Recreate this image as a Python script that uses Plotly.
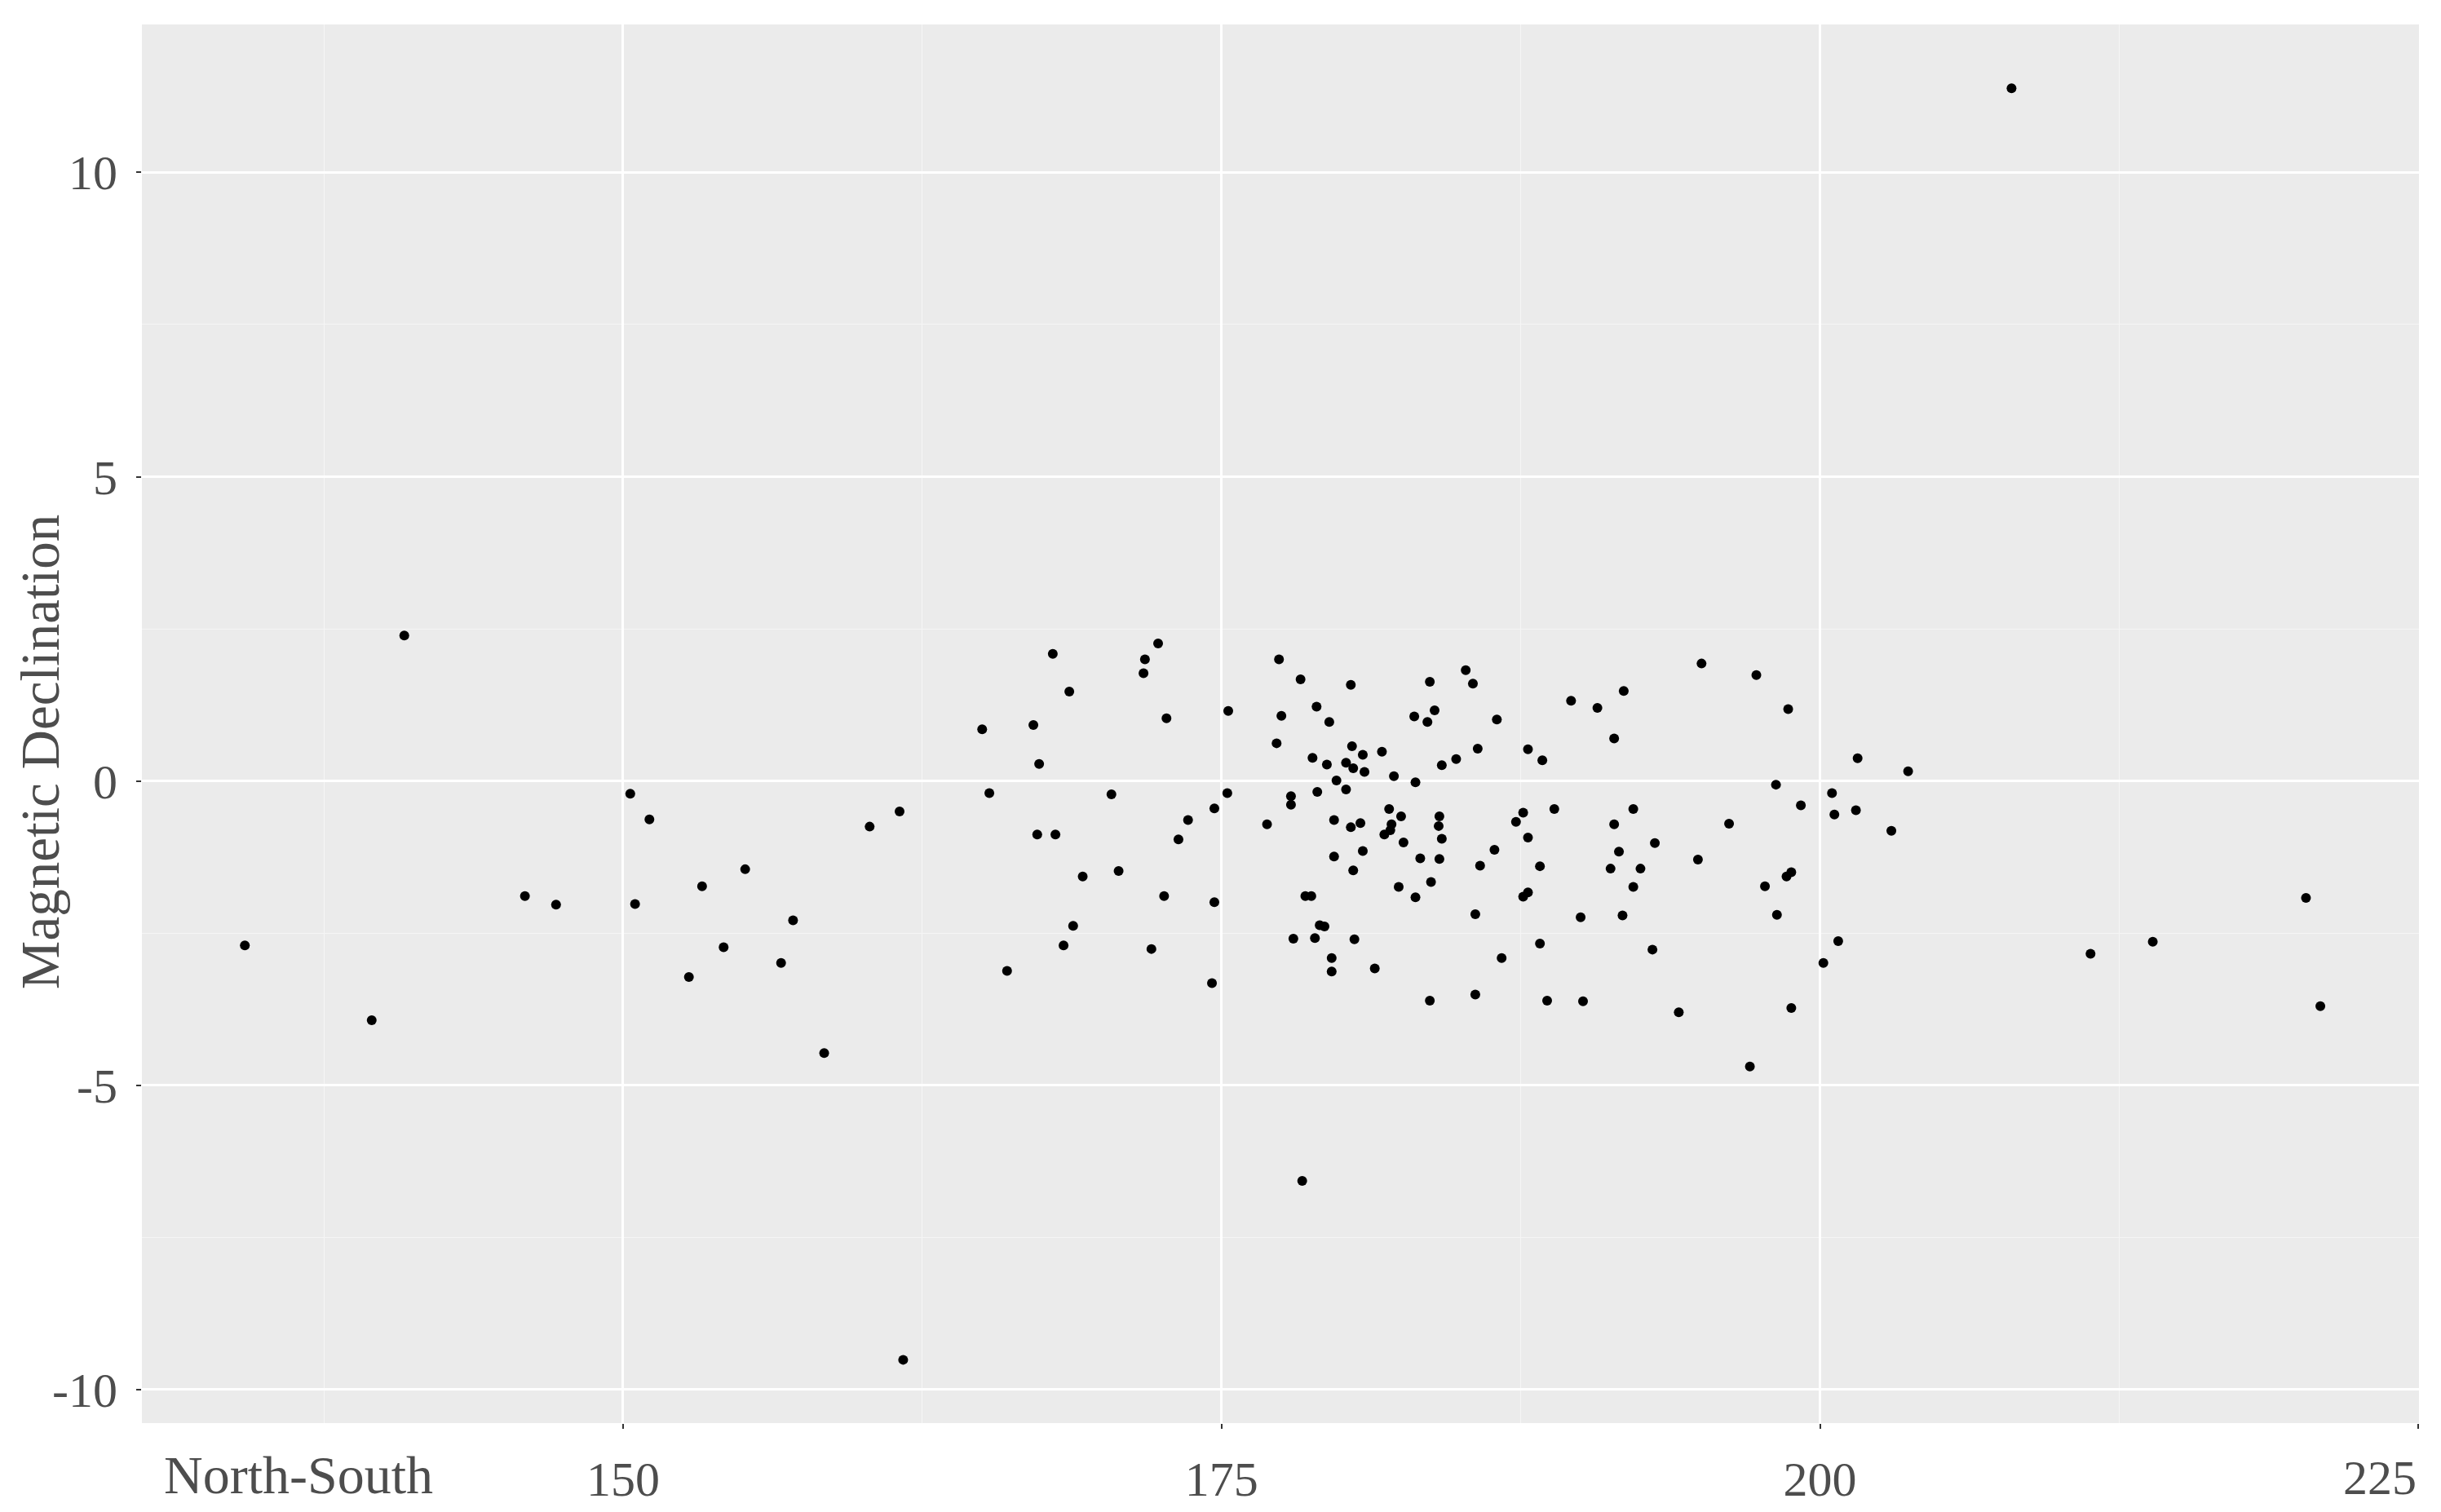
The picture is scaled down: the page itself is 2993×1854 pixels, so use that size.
import plotly.graph_objects as go

# North-South (x) and Magnetic Declination (y) values
north_south = [
    134.2, 139.5, 140.86, 145.9, 147.2, 150.3, 150.5, 151.1, 152.75, 153.3,
    154.2, 155.1, 156.6, 157.1, 158.4, 160.3, 161.55, 161.7,
    165.0, 165.3, 166.04, 167.14, 167.38, 167.3, 168.06, 167.95, 168.64, 169.2,
    168.8, 168.4, 170.4, 170.7, 171.74, 171.8, 172.35, 172.7, 172.07, 172.6,
    173.2, 173.6, 174.7, 174.7, 174.6, 175.24, 175.28, 176.9, 177.3, 177.4,
    177.5, 177.9, 177.9, 178.0, 178.3, 178.5, 178.75, 178.9, 179.0, 178.97,
    178.8, 179.1, 179.3, 179.5, 179.4, 179.6, 179.6, 179.7, 179.7, 179.8,
    180.2, 180.2, 180.4, 180.45, 180.5, 180.4, 180.5, 180.55, 180.8, 180.9,
    180.9, 180.97, 181.4, 181.7, 182.0, 181.8, 182.1, 182.05, 182.2, 182.4,
    182.5, 182.6, 183.1, 183.1, 183.05, 183.3, 183.6, 183.7, 183.7, 183.75,
    183.9, 184.07, 184.1, 184.2, 184.1, 184.2, 184.8, 185.2, 185.5, 185.6,
    185.6, 185.7, 185.8, 186.4, 186.5, 186.7, 187.3, 187.6, 187.6, 187.8,
    187.8, 187.8, 188.3, 188.3, 188.4, 188.6, 188.9, 189.6, 190.0, 190.1,
    190.7, 191.25, 191.4, 191.4, 191.6, 191.75, 191.8, 192.2, 192.2, 192.5,
    193.0, 193.1, 194.1, 194.9, 195.05, 196.2, 197.07, 178.37,
    197.34, 198.67, 201.57, 203.68, 198.16, 199.2, 200.5, 200.6, 201.5, 202.98,
    198.8, 198.6, 197.7, 198.2, 200.76, 200.14, 211.3, 213.9, 220.3, 220.9,
    198.8, 208.0,
]
declination = [
    -2.70, -3.93, 2.39, -1.89, -2.03, -0.21, -2.02, -0.63, -3.22, -1.73,
    -2.73, -1.45, -2.99, -2.29, -4.47, -0.75, -0.50, -9.51,
    0.85, -0.20, -3.12, 0.92, 0.28, -0.88, -0.88, 2.09, 1.47, -1.57,
    -2.38, -2.70, -0.22, -1.48, 1.77, 2.00, 2.26, 1.03, -2.76, -1.89,
    -0.96, -0.64, -0.45, -1.99, -3.32, -0.20, 1.15, -0.71, 0.62, 2.00,
    1.07, -0.25, -0.39, -2.59, 1.67, -1.89, -1.89, -2.58, -0.18, 1.22,
    0.38, -2.37, -2.39, 0.97, 0.27, -2.91, -3.13, -1.24, -0.64, 0.01,
    -0.14, 0.30, 1.58, 0.57, 0.21, -0.76, -1.47, -2.60, -0.69, -1.15,
    0.43, 0.15, -3.08, 0.48, -0.46, -0.88, -0.71, -0.81, 0.08, -1.74,
    -0.58, -1.01, -0.02, -1.91, 1.06, -1.27, 0.97, 1.63, -3.61, -1.66,
    1.16, -0.74, -0.58, -0.95, -1.28, 0.26, 0.36, 1.82, 1.60, -2.19,
    -3.51, 0.53, -1.39, -1.13, 1.01, -2.91, -0.67, -0.52, -1.90, -1.83,
    -0.93, 0.52, -2.67, -1.40, 0.34, -3.61, -0.46, 1.32, -2.24, -3.62,
    1.20, -1.44, -0.71, 0.70, -1.16, -2.21, 1.48, -0.46, -1.74, -1.44,
    -2.77, -1.02, -3.80, -1.29, 1.93, -0.70, -4.69, -6.57,
    1.74, 1.18, 0.375, 0.16, -0.06, -0.40, -0.20, -0.55, -0.48, -0.82,
    -1.50, -1.57, -1.73, -2.20, -2.63, -2.99, -2.84, -2.64, -1.92, -3.70,
    -3.73, 11.38,
]

x_tick_vals = [150, 175, 200, 225]
x_tick_text = ["150", "175", "200", "225"]
y_tick_vals = [-10, -5, 0, 5, 10]
y_tick_text = ["-10", "-5", "0", "5", "10"]

x_title = "North-South"
y_title = "Magnetic Declination"

FONT = "Liberation Serif"
TXT = "#4d4d4d"
TICK_SIZE = 60
TITLE_SIZE = 66

# the last x label sits right-aligned at its tick (as in the reference), so it is
# drawn as an annotation anchored to that tick; the others are regular tick labels
x_text_shown = list(x_tick_text[:-1]) + [""]

fig = go.Figure(
    go.Scatter(
        x=north_south, y=declination, mode="markers",
        marker=dict(color="black", size=12, line=dict(width=0)),
        showlegend=False,
    )
)

fig.update_layout(
    width=2977, height=1838,
    margin=dict(l=166, r=19, t=22, b=101, autoexpand=False),
    paper_bgcolor="white", plot_bgcolor="#EBEBEB",
    font=dict(family=FONT, color=TXT),
    annotations=[
        dict(text=x_tick_text[-1], xref="x", yref="paper", x=x_tick_vals[-1], y=-0.039,
             xanchor="right", yanchor="middle", showarrow=False,
             font=dict(family=FONT, size=TICK_SIZE, color=TXT)),
        dict(text=x_title, xref="paper", yref="paper", x=0.009, y=-0.037,
             xanchor="left", yanchor="middle", showarrow=False,
             font=dict(family=FONT, size=TITLE_SIZE, color=TXT)),
        dict(text=y_title, xref="paper", yref="paper", x=-0.045, y=0.48,
             xanchor="center", yanchor="middle", textangle=-90, showarrow=False,
             font=dict(family=FONT, size=67, color=TXT)),
    ],
)

fig.update_xaxes(
    range=[129.9, 225.02], tickmode="array", tickvals=x_tick_vals, ticktext=x_text_shown,
    showgrid=True, gridcolor="white", gridwidth=2.5, zeroline=False, automargin=False,
    ticks="outside", ticklen=6, tickwidth=2, tickcolor="#333333",
    tickfont=dict(family=FONT, size=TICK_SIZE, color=TXT), ticklabelstandoff=10,
    minor=dict(tickmode="array", tickvals=[137.5, 162.5, 187.5, 212.5],
               showgrid=True, gridcolor="#F5F5F5", gridwidth=1.2, ticks=""),
    showline=False,
)
fig.update_yaxes(
    range=[-10.55, 12.43], tickmode="array", tickvals=y_tick_vals, ticktext=y_tick_text,
    showgrid=True, gridcolor="white", gridwidth=2.5, zeroline=False, automargin=False,
    ticks="outside", ticklen=6, tickwidth=2, tickcolor="#333333",
    tickfont=dict(family=FONT, size=TICK_SIZE, color=TXT), ticklabelstandoff=11,
    minor=dict(tickmode="array", tickvals=[-7.5, -2.5, 2.5, 7.5],
               showgrid=True, gridcolor="#F5F5F5", gridwidth=1.2, ticks=""),
    showline=False,
)

fig.write_html("out.html")
